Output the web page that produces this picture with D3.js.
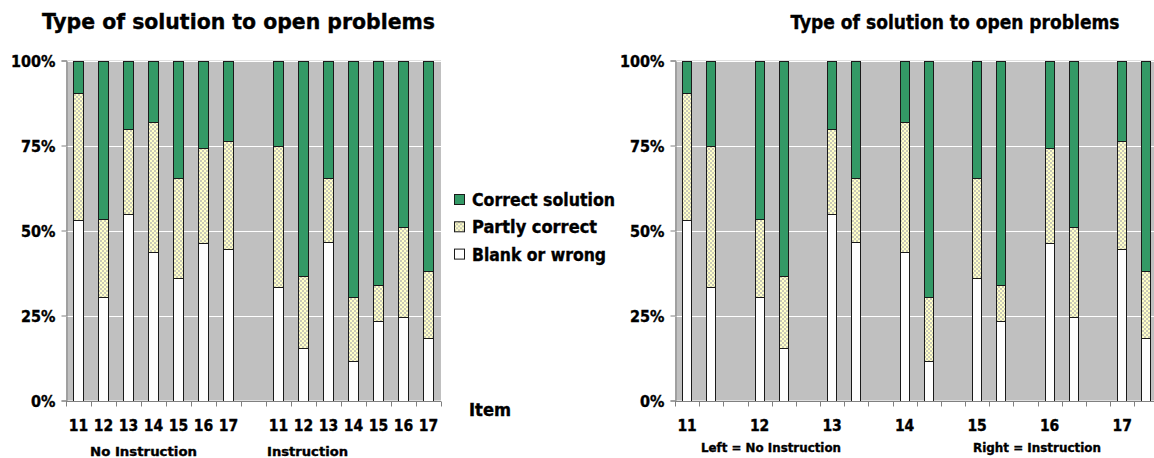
<!DOCTYPE html>
<html>
<head>
<meta charset="utf-8">
<script src="https://cdn.jsdelivr.net/npm/d3@7"></script>
<style>
  html, body { margin: 0; padding: 0; background: #fff; overflow: hidden; }
  svg { display: block; }
  text { font-family: "DejaVu Sans Condensed", "DejaVu Sans", sans-serif; font-weight: bold; fill: #000;
         stroke: #000; stroke-width: 0.35px; }
</style>
</head>
<body>
<svg id="chart" width="1154" height="458"></svg>
<script>
// ---- data (percent of pupils) ----
const items = ["11", "12", "13", "14", "15", "16", "17"];
const seriesNames = ["Blank or wrong", "Partly correct", "Correct solution"];
const blankNo    = [53.1, 30.5, 54.9, 43.6, 36.1, 46.4, 44.6];
const partlyNo   = [37.3, 23.0, 24.9, 38.3, 29.4, 28.0, 31.6];
const correctNo  = [9.6, 46.5, 20.2, 18.1, 34.5, 25.6, 23.8];
const blankIn    = [33.3, 15.5, 46.5, 11.7, 23.4, 24.5, 18.4];
const partlyIn   = [41.5, 21.1, 19.0, 18.8, 10.7, 26.6, 19.8];
const correctIn  = [25.2, 63.4, 34.5, 69.5, 65.9, 48.9, 61.8];
const yTicks = [0, 0.25, 0.5, 0.75, 1];
const titleText = "Type of solution to open problems";
const groupNo = "No Instruction", groupIn = "Instruction";
const rightNoteL = "Left = No Instruction", rightNoteR = "Right = Instruction";
const xTitle = "Item";

const svg = d3.select("#chart");
const defs = svg.append("defs");
const pat = defs.append("pattern").attr("id", "partly")
  .attr("patternUnits", "userSpaceOnUse").attr("width", 4).attr("height", 4);
pat.append("rect").attr("width", 4).attr("height", 4).attr("fill", "#FFFFC8");
pat.append("rect").attr("x", 0).attr("y", 0).attr("width", 2).attr("height", 2).attr("fill", "#CACAB8");
pat.append("rect").attr("x", 2).attr("y", 2).attr("width", 2).attr("height", 2).attr("fill", "#CACAB8");

const fills = { "Blank or wrong": "#FFFFFF", "Partly correct": "url(#partly)", "Correct solution": "#339966" };

function rows(group, blank, partly, correct) {
  return items.map((it, i) => ({
    key: group + it, item: it,
    "Blank or wrong": blank[i] / 100,
    "Partly correct": partly[i] / 100,
    "Correct solution": correct[i] / 100
  }));
}
const rowsNo = rows("N", blankNo, partlyNo, correctNo);
const rowsIn = rows("I", blankIn, partlyIn, correctIn);
const stack = d3.stack().keys(seriesNames);

const y = d3.scaleLinear().domain([0, 1]).range([400.5, 60.5]);

function drawPanel(g, x, data, plotX0, plotX1, labelFor) {
  // background
  g.append("rect").attr("x", plotX0).attr("y", y(1)).attr("width", plotX1 - plotX0)
    .attr("height", y(0) - y(1)).attr("fill", "#C0C0C0");
  // gridlines
  g.append("g").selectAll("line").data(yTicks.filter(d => d > 0)).join("line")
    .attr("x1", plotX0).attr("x2", plotX1)
    .attr("y1", d => Math.round(y(d)) + 0.5).attr("y2", d => Math.round(y(d)) + 0.5)
    .attr("stroke", "#FFFFFF").attr("stroke-width", 1);
  // bars
  const stacked = stack(data);
  g.append("g").selectAll("g").data(stacked).join("g")
    .attr("fill", s => fills[s.key])
    .selectAll("rect").data(s => s).join("rect")
    .attr("x", d => Math.round(x(d.data.key)) + 0.5)
    .attr("width", Math.round(x.bandwidth()) - 1)
    .attr("y", d => Math.round(y(d[1])) + 0.5)
    .attr("height", d => Math.round(y(d[0])) - Math.round(y(d[1])))
    .attr("stroke", "#1a1a1a").attr("stroke-width", 1);
  // y axis
  const ya = g.append("g").attr("transform", `translate(${plotX0 + 0.5},0)`)
    .call(d3.axisLeft(y).tickValues(yTicks).tickFormat(d3.format(".0%")).tickSize(5).tickPadding(6));
  ya.attr("font-family", null).attr("font-size", null);
  ya.selectAll("path").attr("stroke", "#808080");
  ya.selectAll("line").attr("stroke", "#808080");
  ya.selectAll("text").attr("font-size", 16).attr("dy", "0.36em");
  // x axis
  const xa = g.append("g").attr("transform", `translate(0,${Math.round(y(0)) + 0.5})`);
  xa.append("line").attr("x1", plotX0).attr("x2", plotX1).attr("stroke", "#808080");
  const bounds = d3.range(x.domain().length + 1).map(i => x.range()[0] + i * x.step());
  xa.selectAll("line.tk").data(bounds.filter(b => b <= plotX1)).join("line").attr("class", "tk")
    .attr("x1", d => Math.round(d) + 0.5).attr("x2", d => Math.round(d) + 0.5)
    .attr("y1", 0).attr("y2", 5).attr("stroke", "#808080");
  xa.selectAll("text").data(x.domain().filter(k => labelFor(k))).join("text")
    .attr("x", k => x(k) + x.bandwidth() / 2).attr("y", 29.5)
    .attr("text-anchor", "middle").attr("font-size", 15.5).text(k => labelFor(k));
}

// ---- left panel: grouped by instruction ----
const leftKeys = rowsNo.map(d => d.key).concat(["gap"], rowsIn.map(d => d.key));
const piL = 0.56;
const xL = d3.scaleBand().domain(leftKeys).range([66, 441]).paddingInner(piL).paddingOuter(piL / 2);
const gL = svg.append("g");
const itemOf = {};
rowsNo.concat(rowsIn).forEach(d => itemOf[d.key] = d.item);
drawPanel(gL, xL, rowsNo.concat(rowsIn), 66, 441, k => itemOf[k] || "");

// ---- right panel: pairs per item ----
const rightKeys = [];
items.forEach((it, i) => { rightKeys.push("N" + it, "I" + it, "gap" + i); });
const piR = 0.586;
const stepR = 24.17;
const xR = d3.scaleBand().domain(rightKeys).range([675, 675 + stepR * rightKeys.length])
  .paddingInner(piR).paddingOuter(piR / 2);
const gR = svg.append("g");
drawPanel(gR, xR, rowsNo.concat(rowsIn).sort((a, b) => rightKeys.indexOf(a.key) - rightKeys.indexOf(b.key)),
  675, 1154, k => (k[0] === "N" ? k.slice(1) : ""));

// ---- titles ----
svg.append("text").attr("x", 42).attr("y", 29).attr("font-size", 21)
  .attr("textLength", 393).attr("lengthAdjust", "spacingAndGlyphs").text(titleText);
svg.append("text").attr("x", 955).attr("y", 29).attr("font-size", 19)
  .attr("text-anchor", "middle").text(titleText);

// ---- group labels ----
svg.append("text").attr("x", 90).attr("y", 456).attr("font-size", 13)
  .attr("textLength", 107).attr("lengthAdjust", "spacingAndGlyphs").text(groupNo);
svg.append("text").attr("x", 267).attr("y", 456).attr("font-size", 13)
  .attr("textLength", 81).attr("lengthAdjust", "spacingAndGlyphs").text(groupIn);
svg.append("text").attr("x", 701).attr("y", 452).attr("font-size", 13)
  .attr("textLength", 140).attr("lengthAdjust", "spacingAndGlyphs").text(rightNoteL);
svg.append("text").attr("x", 973).attr("y", 452).attr("font-size", 13)
  .attr("textLength", 128).attr("lengthAdjust", "spacingAndGlyphs").text(rightNoteR);
svg.append("text").attr("x", 469).attr("y", 416).attr("font-size", 17)
  .attr("textLength", 42).attr("lengthAdjust", "spacingAndGlyphs").text(xTitle);

// ---- legend ----
const legendOrder = ["Correct solution", "Partly correct", "Blank or wrong"];
const legendW = { "Correct solution": 143, "Partly correct": 125, "Blank or wrong": 134 };
const lg = svg.append("g").selectAll("g").data(legendOrder).join("g")
  .attr("transform", (d, i) => `translate(454,${194 + i * 27.3})`);
lg.append("rect").attr("x", 0.5).attr("y", 0.5).attr("width", 10).attr("height", 10)
  .attr("fill", d => fills[d]).attr("stroke", "#1a1a1a");
lg.append("text").attr("x", 18).attr("y", 12).attr("font-size", 17)
  .attr("textLength", d => legendW[d]).attr("lengthAdjust", "spacingAndGlyphs").text(d => d);
</script>
</body>
</html>
